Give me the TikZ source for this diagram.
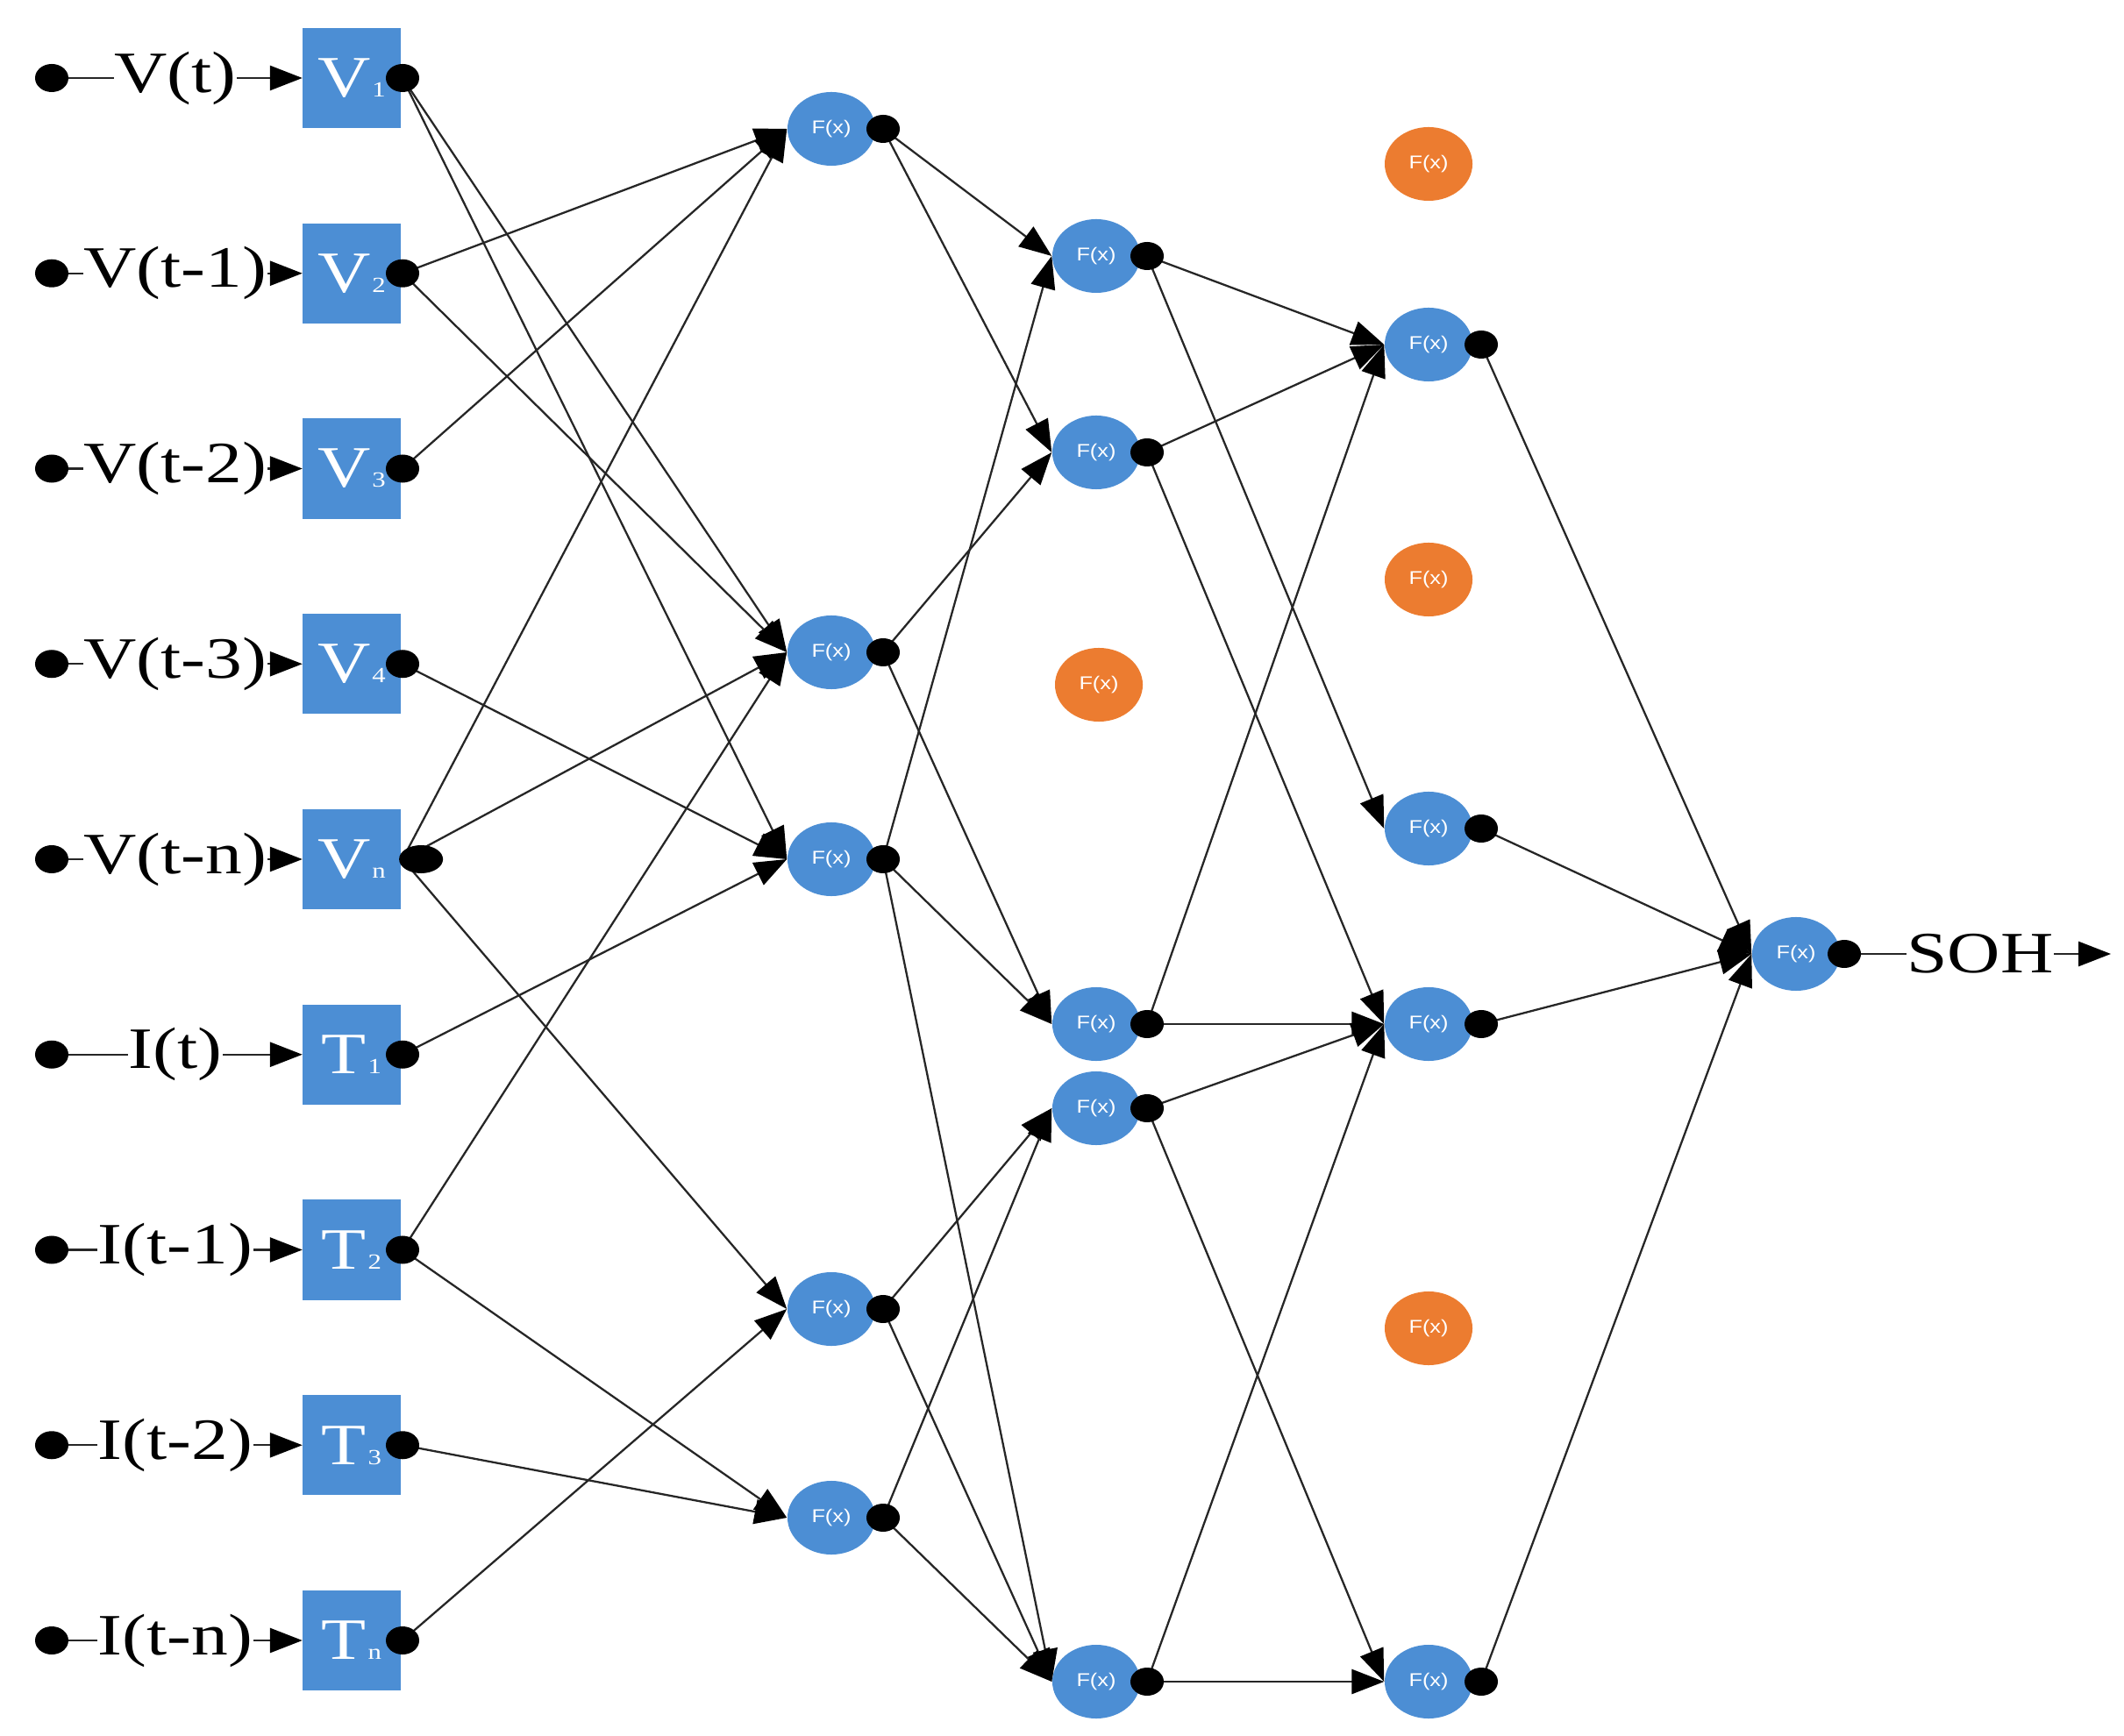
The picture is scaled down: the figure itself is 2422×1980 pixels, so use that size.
\documentclass[tikz,border=0pt]{standalone}
\usepackage{fontspec}
\setmainfont{Liberation Serif}
\newfontfamily\labfont{Liberation Serif}[FakeStretch=1.25]
\newfontfamily\fxfont{Liberation Sans}[FakeStretch=1.2]
\usetikzlibrary{arrows.meta,shapes.geometric}
\definecolor{nodeblue}{RGB}{76,142,212}
\definecolor{nodeorange}{RGB}{236,124,48}
\tikzset{
  inbox/.style={rectangle, fill=nodeblue, minimum width=1.11cm, minimum height=1.14cm,
    inner sep=0pt, text=white, font=\labfont\fontsize{19}{19}\selectfont},
  fxnode/.style={ellipse, fill=nodeblue, minimum width=1.0cm, minimum height=0.84cm,
    inner sep=0pt, text=white, font=\fxfont\fontsize{6}{6}\selectfont},
  fxoff/.style={fxnode, fill=nodeorange},
  blob/.style={ellipse, fill=black, minimum width=0.38cm, minimum height=0.32cm, inner sep=0pt},
  lab/.style={inner sep=0pt, font=\labfont\fontsize{19}{19}\selectfont},
  conn/.style={line width=0.65pt, draw=black!85, -{Triangle[length=10.5pt,width=8pt,fill=black,color=black]}},
  wire/.style={line width=0.65pt, draw=black!85},
}
\begin{document}
\begin{tikzpicture}[x=0.01cm, y=-0.01cm]
\useasboundingbox (0,0) rectangle (2422,1980);

% ---------- input boxes ----------
\foreach \i/\lbl/\bx/\sub in {0/V(t)/V/1, 1/V(t-1)/V/2, 2/V(t-2)/V/3, 3/V(t-3)/V/4,
    4/V(t-n)/V/n, 5/I(t)/T/1, 6/I(t-1)/T/2, 7/I(t-2)/T/3, 8/I(t-n)/T/n}{
  \pgfmathsetmacro{\yy}{89+222.75*\i}
  \node[inbox] (b\i) at (401,\yy) {\bx{\kern0.5pt\fontsize{7}{7}\selectfont\sub}};
  \node[lab] (l\i) at (200,\yy) {\lbl};
  \coordinate (in\i) at (59,\yy);
  \coordinate (p\i) at (459,\yy);
  \draw[wire] (in\i) -- (l\i.west);
  \draw[conn] (l\i.east) -- (b\i.west);
}

% ---------- hidden layer 1 ----------
\node[fxnode] (h1) at (948,147) {F(x)};
\node[fxnode] (h2) at (948,744) {F(x)};
\node[fxnode] (h3) at (948,980) {F(x)};
\node[fxnode] (h4) at (948,1493) {F(x)};
\node[fxnode] (h5) at (948,1731) {F(x)};
\foreach \n/\yy in {1/147,2/744,3/980,4/1493,5/1731}{\coordinate (q\n) at (1007,\yy);}

% ---------- hidden layer 2 ----------
\node[fxnode] (g1) at (1250,292) {F(x)};
\node[fxnode] (g2) at (1250,516) {F(x)};
\node[fxnode] (g3) at (1250,1168) {F(x)};
\node[fxnode] (g4) at (1250,1264) {F(x)};
\node[fxnode] (g5) at (1250,1918) {F(x)};
\node[fxoff] (o1) at (1253,781) {F(x)};
\foreach \n/\yy in {1/292,2/516,3/1168,4/1264,5/1918}{\coordinate (r\n) at (1308,\yy);}

% ---------- hidden layer 3 ----------
\node[fxnode] (k1) at (1629,393) {F(x)};
\node[fxnode] (k2) at (1629,945) {F(x)};
\node[fxnode] (k3) at (1629,1168) {F(x)};
\node[fxnode] (k4) at (1629,1918) {F(x)};
\node[fxoff] (o2) at (1629,187) {F(x)};
\node[fxoff] (o3) at (1629,661) {F(x)};
\node[fxoff] (o4) at (1629,1515) {F(x)};
\foreach \n/\yy in {1/393,2/945,3/1168,4/1918}{\coordinate (s\n) at (1689,\yy);}

% ---------- output ----------
\node[fxnode] (out) at (2048,1088) {F(x)};
\coordinate (u) at (2103,1088);
\node[lab] (soh) at (2258,1088) {SOH};
\coordinate (uend) at (2407,1088);

% ---------- connections: inputs -> layer 1 ----------
\foreach \a/\b in {p0/h2, p0/h3, p1/h1, p1/h2, p2/h1, p3/h3, p4/h1, p4/h2, p4/h4,
    p5/h3, p6/h2, p6/h5, p7/h5, p8/h4}{
  \draw[conn] (\a) -- (\b.west);
}
% ---------- layer 1 -> layer 2 ----------
\foreach \a/\b in {q1/g1, q1/g2, q2/g2, q2/g3, q3/g1, q3/g3, q3/g5, q4/g4, q4/g5,
    q5/g4, q5/g5}{
  \draw[conn] (\a) -- (\b.west);
}
% ---------- layer 2 -> layer 3 ----------
\foreach \a/\b in {r1/k1, r1/k2, r2/k1, r2/k3, r3/k1, r3/k3, r4/k3, r4/k4, r5/k3, r5/k4}{
  \draw[conn] (\a) -- (\b.west);
}
% ---------- layer 3 -> output ----------
\foreach \a in {s1,s2,s3,s4}{
  \draw[conn] (\a) -- (out.west);
}
\draw[wire] (u) -- (soh.west);
\draw[conn] (soh.east) -- (uend);

% ---------- dots ----------
\foreach \i in {0,...,8}{\node[blob] (din\i) at (in\i) {};}
\foreach \i in {0,1,2,3,5,6,7,8}{\node[blob] (dp\i) at (p\i) {};}
\node[blob, minimum width=0.5cm] (dp4) at ([xshift=6]p4) {};
\foreach \n in {1,...,5}{\node[blob] (dq\n) at (q\n) {}; \node[blob] (dr\n) at (r\n) {};}
\foreach \n in {1,...,4}{\node[blob] (ds\n) at (s\n) {};}
\node[blob] (du) at (u) {};
\end{tikzpicture}
\end{document}
